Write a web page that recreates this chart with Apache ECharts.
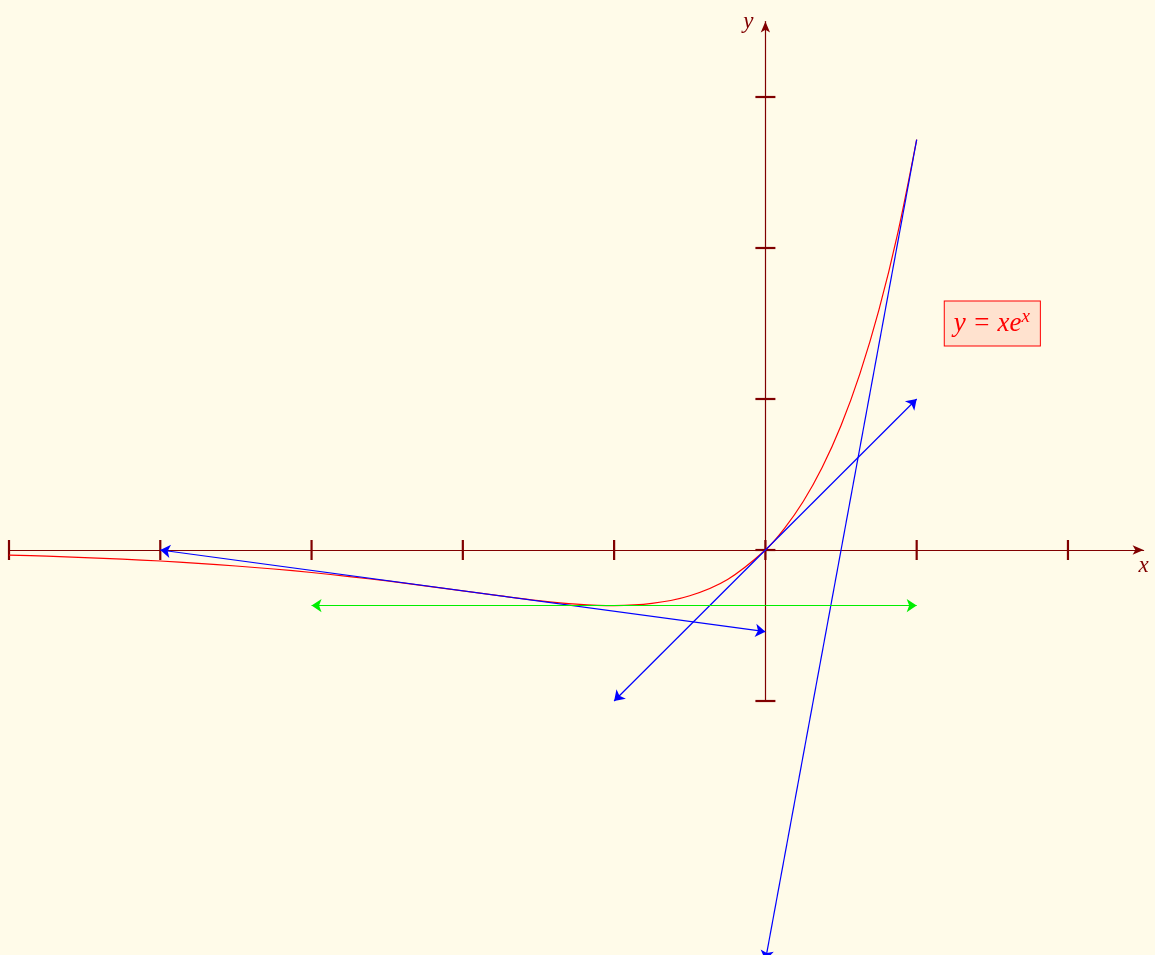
<!DOCTYPE html>
<html>
<head>
<meta charset="utf-8">
<title>y = xe^x</title>
<script src="https://cdn.jsdelivr.net/npm/echarts@6/dist/echarts.min.js"></script>
<style>
  html, body { margin: 0; padding: 0; background: #fffbe9; }
  #main { width: 1155px; height: 955px; }
</style>
</head>
<body>
<div id="main"></div>
<script>
// curve y = x e^x
var curveX = [-5, -4.75, -4.5, -4.25, -4, -3.75, -3.5, -3.25, -3, -2.75, -2.5, -2.25, -2,
              -1.75, -1.5, -1.25, -1, -0.75, -0.5, -0.25, 0, 0.125, 0.25, 0.375, 0.5,
              0.625, 0.75, 0.875, 1];
var curveY = [-0.034, -0.041, -0.050, -0.061, -0.073, -0.088, -0.106, -0.126, -0.149, -0.176,
              -0.205, -0.237, -0.271, -0.304, -0.335, -0.358, -0.368, -0.354, -0.303, -0.195,
              0, 0.142, 0.321, 0.546, 0.824, 1.168, 1.588, 2.099, 2.718];

var xTicks = [-5, -4, -3, -2, -1, 0, 1, 2];
var yTicks = [-1, 0, 1, 2, 3];

// tangent lines (start, end)
var tangentAt0 = [[-1, -1], [1, 1]];
var tangentAtM1 = [[-3, -0.368], [1, -0.368]];
var tangentAtM2 = [[-4, 0], [0, -0.541]];
var tangentAt1 = [[0, -2.718], [1, 2.718]];

var labelPos = [1.5, 1.5];

var axisColor = '#800000';
var fontFam = 'Liberation Serif';

var chart = echarts.init(document.getElementById('main'));

function zip(xs, ys) {
    var out = [];
    for (var i = 0; i < xs.length; i++) out.push([xs[i], ys[i]]);
    return out;
}

var option = {
    backgroundColor: '#fffbe9',
    animation: false,
    grid: { left: 9, right: 11.4, top: 21.5, bottom: 254 },
    xAxis: {
        type: 'value', min: -5, max: 2.5,
        name: 'x', nameLocation: 'end', nameGap: 0,
        nameTextStyle: { color: axisColor, fontFamily: fontFam, fontStyle: 'italic', fontSize: 23,
                         align: 'center', verticalAlign: 'top', padding: [4, 0, 0, 0] },
        axisLine: { onZero: true, symbol: ['none', 'arrow'], symbolSize: [7, 11],
                    lineStyle: { color: axisColor, width: 1.2 } },
        axisTick: { show: false }, axisLabel: { show: false }, splitLine: { show: false }
    },
    yAxis: {
        type: 'value', min: -1, max: 3.5,
        name: 'y', nameLocation: 'end', nameGap: 0,
        nameTextStyle: { color: axisColor, fontFamily: fontFam, fontStyle: 'italic', fontSize: 23,
                         align: 'right', verticalAlign: 'middle', padding: [0, 12, 8, 0] },
        axisLine: { onZero: true, symbol: ['none', 'arrow'], symbolSize: [7, 11],
                    lineStyle: { color: axisColor, width: 1.2 } },
        axisTick: { show: false }, axisLabel: { show: false }, splitLine: { show: false }
    },
    series: [
        {
            type: 'line', data: zip(curveX, curveY), smooth: 0.3, symbol: 'none',
            lineStyle: { color: '#ff0000', width: 1.2 }, z: 3
        },
        {
            type: 'scatter', symbol: 'rect', symbolSize: [2.2, 20], silent: true,
            itemStyle: { color: axisColor, opacity: 1 },
            data: xTicks.map(function (v) { return [v, 0]; }), z: 2
        },
        {
            type: 'scatter', symbol: 'rect', symbolSize: [20, 2.2], silent: true,
            itemStyle: { color: axisColor, opacity: 1 },
            data: yTicks.map(function (v) { return [0, v]; }), z: 2
        },
        {
            type: 'lines', coordinateSystem: 'cartesian2d', clip: false, z: 4,
            symbol: ['arrow', 'arrow'], symbolSize: 10,
            lineStyle: { color: '#0000ff', width: 1.2, opacity: 1 },
            data: [{ coords: tangentAt0 }, { coords: tangentAtM2 }]
        },
        {
            type: 'lines', coordinateSystem: 'cartesian2d', clip: false, z: 4,
            symbol: ['arrow', 'none'], symbolSize: 10,
            lineStyle: { color: '#0000ff', width: 1.2, opacity: 1 },
            data: [{ coords: tangentAt1 }]
        },
        {
            type: 'lines', coordinateSystem: 'cartesian2d', clip: false, z: 4,
            symbol: ['arrow', 'arrow'], symbolSize: 10,
            lineStyle: { color: '#00ee00', width: 1.2, opacity: 1 },
            data: [{ coords: tangentAtM1 }]
        },
        {
            type: 'scatter', symbolSize: 0, silent: true, z: 5,
            itemStyle: { opacity: 1 },
            data: [labelPos],
            label: {
                show: true, position: 'inside', opacity: 1,
                formatter: '{a|y = xe}{b|x}',
                backgroundColor: '#ffe2cf', borderColor: '#ff0000', borderWidth: 1,
                padding: [6, 10, 6, 9],
                rich: {
                    a: { color: '#ff0000', fontFamily: fontFam, fontStyle: 'italic', fontSize: 27 },
                    b: { color: '#ff0000', fontFamily: fontFam, fontStyle: 'italic', fontSize: 19,
                         padding: [0, 0, 13, 0] }
                }
            }
        }
    ]
};

chart.setOption(option);
</script>
</body>
</html>
